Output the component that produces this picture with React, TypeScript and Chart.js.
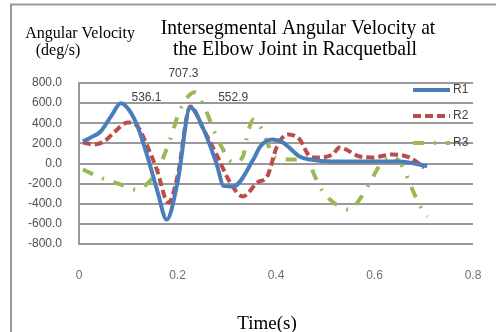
import React, { useEffect, useRef } from "react";
import { Chart, registerables } from "chart.js";

Chart.register(...registerables);

const seriesNames = ["R1", "R2", "R3"];

const r1Time = [0.008, 0.024, 0.044, 0.065, 0.085, 0.101, 0.119, 0.139, 0.16, 0.178, 0.2, 0.226, 0.253, 0.281, 0.293, 0.313, 0.354, 0.368, 0.392, 0.414, 0.448, 0.469, 0.515, 0.556, 0.65, 0.707];
const r1Vel = [219, 259, 318, 468, 600, 537, 368, 70, -289, -557, -189, 557, 338, -30, -222, -229, 40, 169, 239, 209, 70, 40, 20, 20, 20, -25];

const r2Time = [0.008, 0.03, 0.051, 0.071, 0.099, 0.119, 0.139, 0.16, 0.176, 0.182, 0.2, 0.226, 0.253, 0.281, 0.307, 0.333, 0.362, 0.382, 0.402, 0.424, 0.448, 0.469, 0.483, 0.515, 0.529, 0.57, 0.596, 0.636, 0.671, 0.701];
const r2Vel = [209, 189, 219, 308, 408, 368, 169, -90, -358, -388, -129, 567, 338, 70, -189, -328, -189, -129, 169, 289, 239, 70, 60, 90, 159, 70, 60, 90, 60, -40];

const r3Time = [0.008, 0.048, 0.085, 0.115, 0.141, 0.16, 0.176, 0.19, 0.2, 0.22, 0.236, 0.246, 0.261, 0.273, 0.287, 0.313, 0.333, 0.343, 0.354, 0.368, 0.382, 0.398, 0.422, 0.463, 0.479, 0.495, 0.523, 0.549, 0.574, 0.594, 0.616, 0.636, 0.657, 0.671, 0.691, 0.707];
const r3Vel = [-60, -149, -209, -259, -189, -60, 119, 308, 468, 657, 707, 637, 488, 338, 189, 10, 70, 308, 438, 368, 209, 60, 40, 40, -129, -279, -408, -458, -328, -159, 20, 70, -30, -189, -408, -527];

const xTicks = [0, 0.2, 0.4, 0.6, 0.8];
const yTicks = [-800, -600, -400, -200, 0, 200, 400, 600, 800];

const peakLabels = ["536.1", "707.3", "552.9"];
const peakLabelTime = [0.137, 0.212, 0.313];
const peakLabelVel = [657, 896, 657];

const colors = ["#4A7EBB", "#BE4B48", "#98B954"];
const dashes: number[][] = [[], [8, 4], [11, 10, 2, 10]];

const toPoints = (xs: number[], ys: number[]) => xs.map((x, i) => ({ x, y: ys[i] }));

const decorPlugin = {
  id: "decor",
  afterDraw(chart: any) {
    const ctx = chart.ctx;
    const xs = chart.scales.x;
    const ys = chart.scales.y;
    ctx.save();
    // frame
    ctx.strokeStyle = "#9a9a9a";
    ctx.lineWidth = 2;
    ctx.beginPath();
    ctx.moveTo(11, 332);
    ctx.lineTo(11, 4.5);
    ctx.lineTo(496, 4.5);
    ctx.stroke();

    // title
    ctx.fillStyle = "#000";
    ctx.textAlign = "center";
    ctx.textBaseline = "alphabetic";
    ctx.font = '22px "Liberation Serif", serif';
    const drawScaled = (t: string, cx: number, by: number, sx: number) => {
      ctx.save();
      ctx.translate(cx, by);
      ctx.scale(sx, 1);
      ctx.fillText(t, 0, 0);
      ctx.restore();
    };
    drawScaled("Intersegmental Angular Velocity at", 298, 34, 0.89);
    drawScaled("the Elbow Joint in Racquetball", 295, 55, 0.9);

    // y title
    ctx.font = '16px "Liberation Serif", serif';
    ctx.fillText("Angular Velocity", 80, 38);
    ctx.fillText("(deg/s)", 58, 55);

    // x title
    ctx.font = '19px "Liberation Serif", serif';
    ctx.fillText("Time(s)", 267, 329);

    // peak labels
    ctx.font = '12px "Liberation Sans", sans-serif';
    ctx.fillStyle = "#404040";
    ctx.textBaseline = "middle";
    peakLabels.forEach((t, i) => {
      ctx.fillText(t, xs.getPixelForValue(peakLabelTime[i]), ys.getPixelForValue(peakLabelVel[i]));
    });

    // legend
    const rows = [90, 116, 143];
    seriesNames.forEach((name, i) => {
      ctx.strokeStyle = colors[i];
      ctx.lineWidth = 4;
      ctx.setLineDash(dashes[i]);
      ctx.beginPath();
      ctx.moveTo(413, rows[i]);
      ctx.lineTo(450, rows[i]);
      ctx.stroke();
      ctx.setLineDash([]);
      ctx.fillStyle = "#404040";
      ctx.textAlign = "left";
      ctx.fillText(name, 453, rows[i]);
    });
    ctx.restore();
  },
};

export default function App() {
  const ref = useRef<HTMLCanvasElement>(null);
  useEffect(() => {
    document.body.style.margin = "0";
    const series = [
      toPoints(r1Time, r1Vel),
      toPoints(r2Time, r2Vel),
      toPoints(r3Time, r3Vel),
    ];
    const chart = new Chart(ref.current!, {
      type: "line",
      data: {
        datasets: seriesNames.map((name, i) => ({
          label: name,
          data: series[i],
          borderColor: colors[i],
          backgroundColor: colors[i],
          borderWidth: 4,
          borderDash: dashes[i],
          pointRadius: 0,
          cubicInterpolationMode: "monotone" as const,
          fill: false,
        })),
      },
      options: {
        animation: false,
        responsive: false,
        devicePixelRatio: 1,
        layout: { padding: { top: 83, right: 23, left: 0, bottom: 0 } },
        plugins: { legend: { display: false }, title: { display: false }, tooltip: { enabled: false } },
        scales: {
          x: {
            type: "linear",
            min: xTicks[0],
            max: xTicks[xTicks.length - 1],
            afterBuildTicks: (s: any) => { s.ticks = xTicks.map((v) => ({ value: v })); },
            afterFit: (s: any) => { s.height = 88; },
            grid: { display: true, drawOnChartArea: false, drawTicks: true, tickLength: 12, tickColor: "rgba(0,0,0,0)" },
            border: { display: false },
            ticks: {
              padding: 12,
              color: "#6f6f6f",
              font: { family: '"Liberation Sans", sans-serif', size: 12 },
              callback: (v: any) => (v === 0 ? "0" : String(Math.round(Number(v) * 10) / 10)),
            },
          },
          y: {
            min: yTicks[0],
            max: yTicks[yTicks.length - 1],
            afterBuildTicks: (s: any) => { s.ticks = yTicks.map((v) => ({ value: v })); },
            afterFit: (s: any) => { s.width = 79; },
            grid: { color: "#9a9a9a", lineWidth: 2, drawTicks: false },
            border: { display: true, color: "#9a9a9a", width: 2 },
            ticks: {
              padding: 17,
              color: "#505050",
              font: { family: '"Liberation Sans", sans-serif', size: 12 },
              callback: (v: any) => Number(v).toFixed(1),
            },
          },
        },
      },
      plugins: [decorPlugin],
    });
    return () => chart.destroy();
  }, []);
  return (
    <div style={{ position: "fixed", left: 0, top: 0, width: 496, height: 332, background: "#fff" }}>
      <canvas ref={ref} width={496} height={332} style={{ width: 496, height: 332 }} />
    </div>
  );
}
